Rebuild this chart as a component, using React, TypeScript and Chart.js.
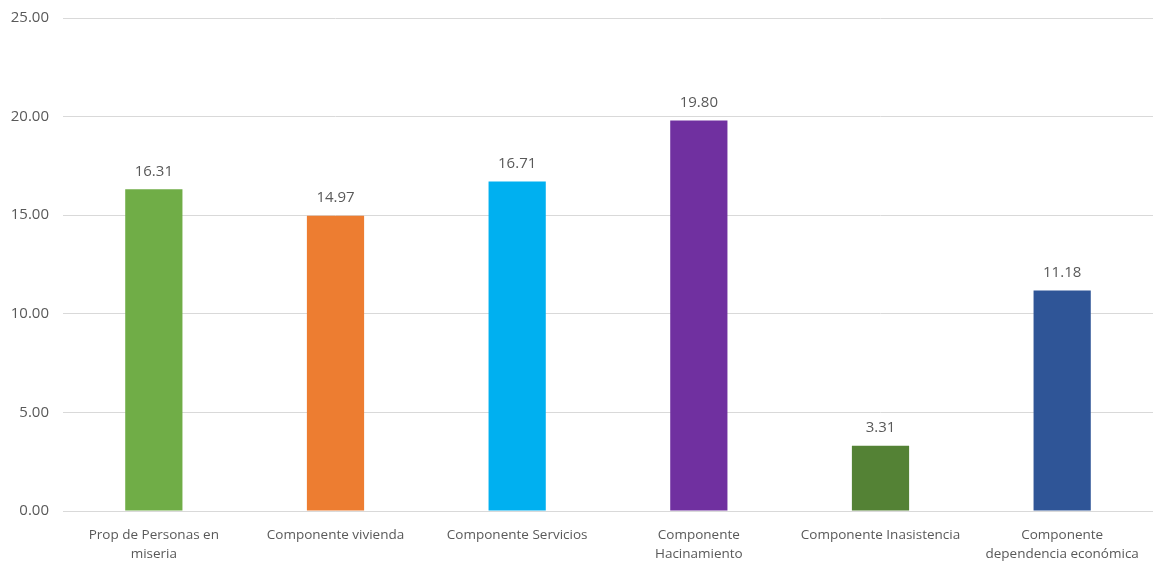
import React, { useEffect, useRef } from "react";
import { Chart, registerables } from "chart.js";

Chart.register(...registerables);

const categories: (string | string[])[] = [
  ["Prop de Personas en", "miseria"],
  "Componente vivienda",
  "Componente Servicios",
  ["Componente", "Hacinamiento"],
  "Componente Inasistencia",
  ["Componente", "dependencia económica"],
];
const values = [16.31, 14.97, 16.71, 19.8, 3.31, 11.18];
const barColors = ["#70AD47", "#ED7D31", "#00B0F0", "#7030A0", "#548235", "#2F5597"];
const yTicks = [0, 5, 10, 15, 20, 25];

const FONT = "'Open Sans', 'Liberation Sans', sans-serif";
const TEXT = "#595959";

const valueLabels = {
  id: "valueLabels",
  afterDatasetsDraw(chart: any) {
    const ctx = chart.ctx;
    const meta = chart.getDatasetMeta(0);
    ctx.save();
    ctx.font = `15px ${FONT}`;
    ctx.fillStyle = TEXT;
    ctx.textAlign = "center";
    ctx.textBaseline = "middle";
    meta.data.forEach((bar: any, i: number) => {
      ctx.fillText(values[i].toFixed(2), bar.x, bar.y - 18);
    });
    ctx.restore();
  },
};

export default function App() {
  const ref = useRef<HTMLCanvasElement>(null);
  useEffect(() => {
    if (!ref.current) return;
    const chart = new Chart(ref.current, {
      type: "bar",
      data: {
        labels: categories,
        datasets: [
          {
            data: values,
            backgroundColor: barColors,
            barPercentage: 0.63,
            categoryPercentage: 0.5,
          },
        ],
      },
      options: {
        responsive: false,
        animation: false,
        maintainAspectRatio: false,
        layout: { padding: { top: 18, right: 0, left: 0, bottom: 0 } },
        plugins: { legend: { display: false }, tooltip: { enabled: false } },
        scales: {
          x: {
            grid: { display: false },
            border: { display: true, color: "#d9d9d9", width: 1 },
            ticks: {
              color: TEXT,
              font: { family: FONT, size: 13.5, lineHeight: 1.4 },
              maxRotation: 0,
              autoSkip: false,
              padding: 7,
            },
            afterFit: (s: any) => {
              s.height = 52;
              s.paddingLeft = 0;
              s.paddingRight = 0;
            },
          },
          y: {
            min: 0,
            max: 25,
            afterBuildTicks: (s: any) => {
              s.ticks = yTicks.map((v) => ({ value: v }));
            },
            grid: { color: "#d9d9d9", drawTicks: false },
            border: { display: false },
            ticks: {
              color: TEXT,
              font: { family: FONT, size: 15 },
              padding: 14,
              callback: (v: any) => Number(v).toFixed(2),
            },
            afterFit: (s: any) => {
              s.width = 63;
              s.paddingTop = 0;
              s.paddingBottom = 0;
            },
          },
        },
      },
      plugins: [valueLabels],
    });
    return () => chart.destroy();
  }, []);
  return (
    <div style={{ position: "fixed", left: 0, top: 0, width: 1153, height: 563, background: "#fff" }}>
      <canvas ref={ref} width={1153} height={563} />
    </div>
  );
}
